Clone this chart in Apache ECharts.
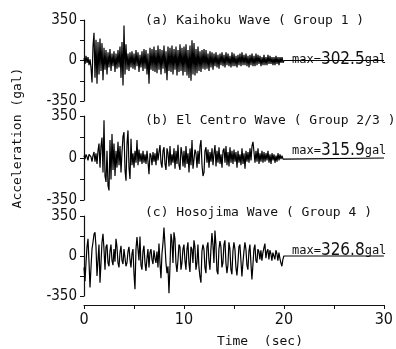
<!DOCTYPE html>
<html>
<head>
<meta charset="utf-8">
<script src="https://cdn.jsdelivr.net/npm/echarts@6/dist/echarts.min.js"></script>
<style>
    html, body { margin: 0; padding: 0; background: #fff; }
    #chart { width: 396px; height: 349px; }
</style>
</head>
<body>
<div id="chart"></div>
<script>
// sample step (sec) of the digitised records, record length 0-20 s
const dt = 0.1;
const timeTicks = [0, 10, 20, 30];
const accTicks = [-350, 0, 350];

// (a) Kaihoku Wave, gal
const kaihoku = [
    20, -30, 40, -20, 30, -40, 10, -60, -190, 120,
    240, -150, 180, -200, 160, -120, 190, -90, 150, -170,
    110, -80, 90, -120, 70, -60, 100, -90, 60, -50,
    80, -100, 60, -70, 90, -60, 120, -150, 160, -215,
    302, -120, 140, -80, 60, -90, 70, -60, 80, -70,
    60, -80, 90, -50, 70, -100, 50, -60, 80, -90,
    100, -70, 90, -120, 60, -200, 110, -80, 100, -90,
    120, -100, 90, -110, 130, -80, 100, -120, 90, -70,
    130, -110, 80, -170, 120, -90, 110, -100, 130, -120,
    100, -80, 120, -130, 90, -100, 140, -90, 110, -130,
    120, -100, 140, -130, 90, -150, 130, -175, 175, -120,
    150, -130, 100, -110, 120, -90, 80, -100, 90, -70,
    100, -80, 90, -70, 60, -90, 80, -60, 70, -80,
    60, -50, 70, -60, 50, -70, 60, -40, 70, -50,
    50, -60, 70, -40, 60, -50, 40, -60, 70, -50,
    60, -50, 40, -60, 50, -40, 60, -50, 70, -40,
    50, -40, 60, -50, 40, -60, 50, -40, 60, -50,
    40, -50, 60, -40, 50, -30, 40, -50, 30, -40,
    50, -40, 30, -40, 50, -30, 40, -30, 30, -40,
    30, -40, 40, -30, 30, -40, 30, -20, 30, -20
];

// (b) El Centro Wave, gal
const elCentro = [
    20, -10, 30, 10, -20, 30, 40, 10, -30, 20,
    50, -30, 40, -50, 60, 120, -80, 100, 170, -120,
    315, -150, -200, 60, -230, -270, 150, -180, 200, -100,
    120, -150, 60, -80, 135, -60, 100, -120, 50, 180,
    215, -100, -190, 120, 230, -80, -175, 160, -60, 40,
    -80, 60, -40, 150, -60, 70, -30, 40, -50, 60,
    -40, 30, -50, 60, -30, -135, 40, 20, -60, 50,
    -30, 40, -60, 80, -20, 50, 108, -40, -80, 60,
    90, -50, -100, 80, 40, -70, 100, -60, 30, -40,
    80, -90, 60, -50, 110, -60, -100, 90, 40, -70,
    60, -80, 100, -50, 40, -120, 80, -60, 150, -90,
    -100, 70, 40, -80, 60, -50, 100, 150, -60, -150,
    -120, 60, 90, -40, 70, -80, 50, -30, 80, -60,
    40, 108, -70, 60, -40, 90, -50, 30, -80, 60,
    80, -40, 100, -60, 50, -70, 90, -40, 60, -50,
    70, -30, 50, -80, 60, -40, 30, -60, 80, -50,
    40, -90, 60, -30, 50, -40, 80, -20, 100, 135,
    120, -40, 60, -30, 80, -50, 40, -30, 60, -40,
    50, -30, 40, -20, 60, -40, 30, -50, 40, -20,
    30, -40, 20, -30, 40, -20, 30, -10, 20, -10
];

// (c) Hosojima Wave, gal
const hosojima = [
    -100, -220, -60, 80, 150, -50, -275, -100, 60, 120,
    190, 208, 80, -175, -40, 100, -233, -60, 120, 194,
    60, -120, 80, 100, -60, -90, 40, 100, -40, -80,
    60, -50, 150, 80, -60, -100, 30, 90, -40, -70,
    60, 50, -90, -60, 40, 80, -30, -100, 20, 60,
    -150, -290, 60, 165, 150, -40, 170, -80, -120, 40,
    90, -60, -130, -20, 60, -100, 30, 60, -30, -70,
    50, -20, -60, 40, -100, 110, -60, -195, 20, 110,
    250, 100, -60, -150, -90, -326, -100, 194, 130, -60,
    208, 150, -60, -140, -40, 100, 80, -120, -60, 60,
    100, -40, -120, 60, 120, -60, -140, 80, 60, -60,
    137, 80, -120, -60, 100, -100, -180, -233, 40, 100,
    60, -100, -150, 80, 120, -40, -120, 60, 200, 100,
    -60, 222, 100, -130, -160, 60, 130, 80, -100, -60,
    100, 137, -60, -150, -80, 120, 60, -120, -160, 40,
    120, 60, -100, -170, -60, 80, 100, -40, -180, -60,
    40, 120, 60, -80, -120, 40, 100, -60, -205, -80,
    60, 100, -40, -60, 60, 40, -30, 50, -40, 30,
    70, 108, -20, 40, 60, -30, 50, 20, -40, 30,
    40, -30, 50, 20, -40, 30, -20, -60, -90, -30
];

const panelTitles = [
    '(a) Kaihoku Wave ( Group 1 )',
    '(b) El Centro Wave ( Group 2/3 )',
    '(c) Hosojima Wave ( Group 4 )'
];
const maxValues = ['302.5', '315.9', '326.8'];

const monoFont = '"DejaVu Sans Mono", "Liberation Mono", monospace';
const numFont = '"Liberation Sans Narrow", "DejaVu Sans Condensed", "Liberation Sans", sans-serif';

// record + quiet tail to 30 s
function toPoints(arr) {
    let pts = arr.map((v, i) => [+(i * dt).toFixed(1), v]);
    pts.push([20, 0]);
    pts.push([30, 0]);
    return pts;
}

const records = [kaihoku, elCentro, hosojima];
const grids = [
    { left: 84, width: 300, top: 20, height: 81 },
    { left: 84, width: 300, top: 116, height: 84 },
    { left: 84, width: 300, top: 216, height: 82 }
];
const titleTops = [9, 109, 201];
const maxTops = [46, 137, 237];

let xAxes = [];
let yAxes = [];
let series = [];
let titles = [];
for (let i = 0; i < 3; i++) {
    let last = i == 2;
    xAxes.push({
        type: 'value',
        gridIndex: i,
        min: timeTicks[0],
        max: timeTicks[timeTicks.length - 1],
        interval: 5,
        show: last,
        offset: last ? 9 : 0,
        axisLine: { show: true, onZero: false, lineStyle: { color: '#111', width: 1.2 } },
        axisTick: { show: true, length: 4, lineStyle: { color: '#111' } },
        axisLabel: {
            show: last,
            margin: 7,
            color: '#111',
            fontFamily: numFont,
            fontSize: 16,
            formatter: v => (timeTicks.indexOf(v) >= 0 ? String(v) : '')
        },
        splitLine: { show: false },
        name: last ? 'Time  (sec)' : '',
        nameLocation: 'middle',
        nameGap: 30,
        nameTextStyle: {
            color: '#111',
            fontFamily: monoFont,
            fontSize: 13,
            padding: [0, 0, 0, 52]
        }
    });
    yAxes.push({
        type: 'value',
        gridIndex: i,
        min: -350,
        max: 350,
        interval: 175,
        axisLine: { show: true, onZero: false, lineStyle: { color: '#111', width: 1.2 } },
        axisTick: { show: true, length: 4, lineStyle: { color: '#111' } },
        axisLabel: {
            margin: 7,
            color: '#111',
            fontFamily: numFont,
            fontSize: 15,
            formatter: v => (accTicks.indexOf(v) >= 0 ? String(v) : '')
        },
        splitLine: { show: false }
    });
    series.push({
        type: 'line',
        xAxisIndex: i,
        yAxisIndex: i,
        data: toPoints(records[i]),
        symbol: 'none',
        sampling: false,
        lineStyle: { color: '#000', width: 1.2 },
        animation: false
    });
    titles.push({
        text: panelTitles[i],
        left: 140,
        top: titleTops[i],
        textStyle: { color: '#111', fontFamily: monoFont, fontSize: 13, fontWeight: 'normal' }
    });
    titles.push({
        text: '{s|max=}{n|' + maxValues[i] + '}{s|gal}',
        left: 287,
        top: maxTops[i],
        textStyle: {
            fontWeight: 'normal',
            rich: {
                s: { color: '#111', fontFamily: monoFont, fontSize: 12, fontWeight: 'normal' },
                n: { color: '#111', fontFamily: numFont, fontSize: 17, fontWeight: 'normal' }
            }
        }
    });
}

let chart = echarts.init(document.getElementById('chart'));
chart.setOption({
    animation: false,
    title: titles,
    grid: grids,
    xAxis: xAxes,
    yAxis: yAxes,
    series: series,
    graphic: [
        {
            type: 'text',
            x: 18,
            y: 138,
            rotation: Math.PI / 2,
            style: {
                text: 'Acceleration (gal)',
                fill: '#111',
                font: '13px "DejaVu Sans Mono", monospace',
                align: 'center',
                verticalAlign: 'middle'
            }
        }
    ]
});
</script>
</body>
</html>
